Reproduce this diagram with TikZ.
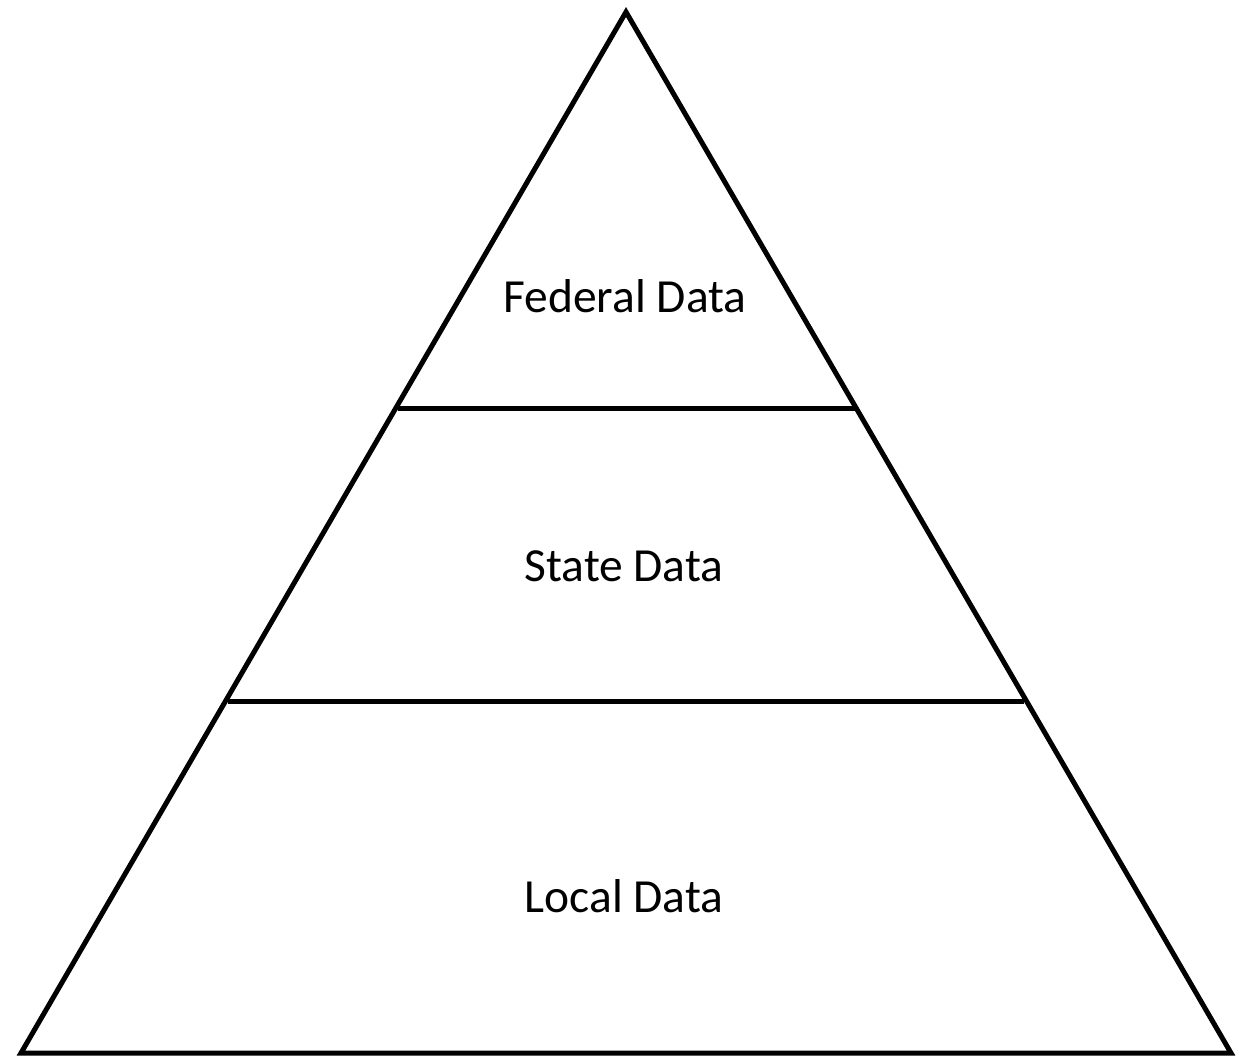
\documentclass[tikz,border=0pt]{standalone}
\usepackage{fontspec}
\setmainfont{Carlito}
\begin{document}
\begin{tikzpicture}[x=1pt,y=-1pt,
  edge/.style={line width=5pt,line join=miter},
  lbl/.style={font=\fontsize{47.5}{56}\selectfont,inner sep=0pt}]
\useasboundingbox (0,0) rectangle (1248,1060);
\coordinate (top) at (626,12);
\coordinate (bl) at (21,1053);
\coordinate (br) at (1231,1053);
\coordinate (l1) at (398,408);
\coordinate (r1) at (855,408);
\coordinate (l2) at (228,701);
\coordinate (r2) at (1024,701);
\draw[edge] (top) -- (br) -- (bl) -- cycle;
\draw[edge] (l1) -- (r1);
\draw[edge] (l2) -- (r2);
\node[lbl] (fed) at (625,296) {Federal Data};
\node[lbl] (state) at (624,566) {State Data};
\node[lbl] (local) at (624,896) {Local Data};
\end{tikzpicture}
\end{document}
